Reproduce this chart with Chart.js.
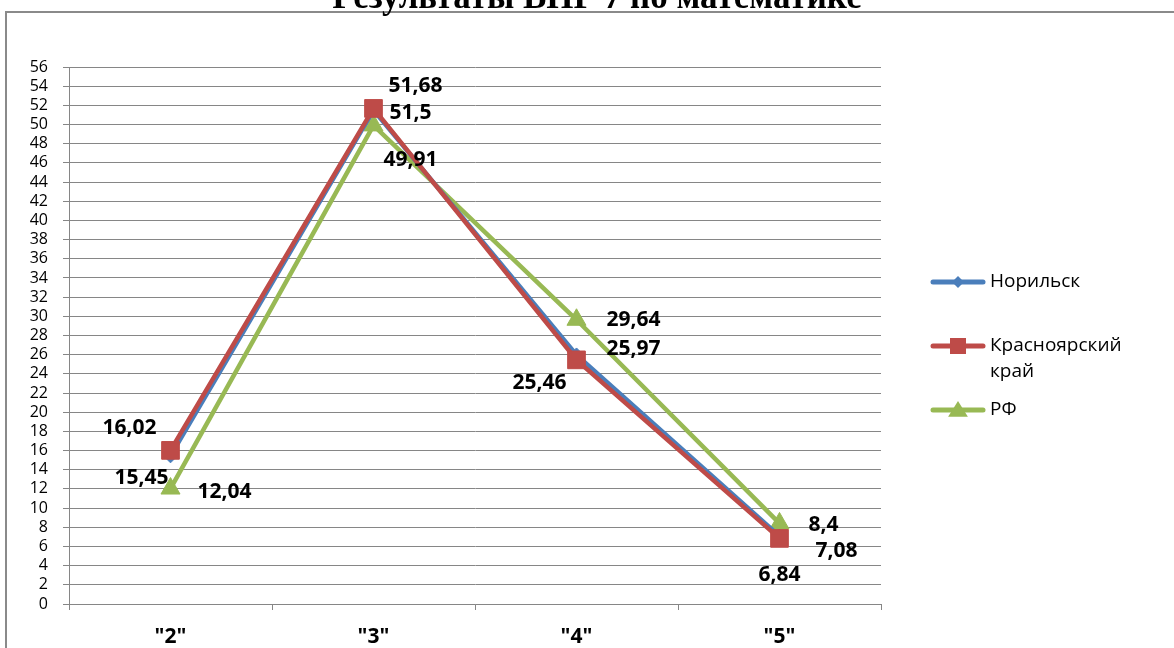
<!DOCTYPE html>
<html lang="ru">
<head>
<meta charset="utf-8">
<script src="https://cdn.jsdelivr.net/npm/chart.js@4.4.1/dist/chart.umd.min.js"></script>
<style>
  html, body { margin: 0; padding: 0; background: #fff; }
  #wrap { width: 1174px; height: 648px; }
</style>
</head>
<body>
<div id="wrap"><canvas id="vprChart" width="1174" height="648"></canvas></div>
<script>
// Результаты ВПР 7 по математике (%)
const categories = ['"2"', '"3"', '"4"', '"5"'];
const norilsk = [15.45, 51.5, 25.97, 7.08];
const krasnoyarsk = [16.02, 51.68, 25.46, 6.84];
const russia = [12.04, 49.91, 29.64, 8.4];
const seriesNames = ['Норильск', 'Красноярский край', 'РФ'];
const yMax = 56;
const yStep = 2;

// where each value label sits relative to its point (px)
const labelShift = [
  [[-29, 22], [37, 3], [57, -6], [57, 15]],
  [[-41, -22], [42, -22], [-37, 23], [0, 37]],
  [[54, 3], [37, 35], [57, 0], [44, 2]]
];

const BLUE = '#4a7ebb';
const RED = '#be4b48';
const GREEN = '#98b954';
const GRID = '#868686';
const SANS = '"Open Sans", "Noto Sans", sans-serif';

// frame + title, drawn behind everything
const framePlugin = {
  id: 'frame',
  beforeDraw(chart) {
    const ctx = chart.ctx;
    ctx.save();
    ctx.fillStyle = '#fff';
    ctx.fillRect(0, 0, chart.width, chart.height);
    ctx.strokeStyle = '#8a8a8a';
    ctx.lineWidth = 2;
    ctx.strokeRect(6, 12, chart.width + 20, chart.height + 20);
    ctx.fillStyle = '#000';
    ctx.font = 'bold 35px "Liberation Serif", "Times New Roman", serif';
    ctx.textAlign = 'center';
    ctx.textBaseline = 'alphabetic';
    ctx.fillText('Результаты ВПР 7 по математике', 597, 8);
    ctx.restore();
  }
};

// value labels next to the points
const valueLabels = {
  id: 'valueLabels',
  afterDatasetsDraw(chart) {
    const ctx = chart.ctx;
    ctx.save();
    ctx.fillStyle = '#000';
    ctx.font = 'bold 21px ' + SANS;
    ctx.textAlign = 'center';
    ctx.textBaseline = 'middle';
    chart.data.datasets.forEach((ds, i) => {
      const meta = chart.getDatasetMeta(i);
      meta.data.forEach((pt, j) => {
        const [dx, dy] = labelShift[ds.seriesIndex][j];
        const txt = String(ds.data[j]).replace('.', ',');
        ctx.fillText(txt, pt.x + dx, pt.y + dy);
      });
    });
    ctx.restore();
  }
};

function marker(ctx, style, x, y, r) {
  ctx.beginPath();
  if (style === 'rectRot') {
    ctx.moveTo(x, y - r);
    ctx.lineTo(x + r, y);
    ctx.lineTo(x, y + r);
    ctx.lineTo(x - r, y);
  } else if (style === 'rect') {
    ctx.rect(x - r, y - r, 2 * r, 2 * r);
  } else {
    ctx.moveTo(x, y - r);
    ctx.lineTo(x + r * 1.1, y + r * 0.75);
    ctx.lineTo(x - r * 1.1, y + r * 0.75);
  }
  ctx.closePath();
  ctx.fill();
}

// legend on the right, with the long name split on two lines
const sideLegend = {
  id: 'sideLegend',
  afterDraw(chart) {
    const ctx = chart.ctx;
    const rows = [
      { ds: 0, y: 282, r: 6, lines: ['Норильск'] },
      { ds: 1, y: 346, r: 8, lines: ['Красноярский', 'край'] },
      { ds: 2, y: 410, r: 9, lines: ['РФ'] }
    ];
    ctx.save();
    rows.forEach(row => {
      const ds = chart.data.datasets.find(d => d.seriesIndex === row.ds);
      ctx.strokeStyle = ds.borderColor;
      ctx.lineWidth = 5;
      ctx.lineCap = 'round';
      ctx.beginPath();
      ctx.moveTo(933, row.y);
      ctx.lineTo(983, row.y);
      ctx.stroke();
      ctx.fillStyle = ds.pointBackgroundColor;
      marker(ctx, ds.pointStyle, 958, row.y, row.r);
      ctx.fillStyle = '#000';
      ctx.font = '19px ' + SANS;
      ctx.textAlign = 'left';
      ctx.textBaseline = 'middle';
      row.lines.forEach((t, k) => ctx.fillText(t, 990, row.y + k * 26));
    });
    ctx.restore();
  }
};

function series(idx, data, color, style, radius) {
  return {
    label: seriesNames[idx],
    seriesIndex: idx,
    data: data,
    borderColor: color,
    backgroundColor: color,
    pointBackgroundColor: color,
    pointBorderColor: color,
    borderWidth: 4.5,
    pointStyle: style,
    pointRadius: radius,
    pointBorderWidth: 1,
    tension: 0,
    fill: false
  };
}

// first dataset ends up on top
const config = {
  type: 'line',
  data: {
    labels: categories,
    datasets: [
      series(1, krasnoyarsk, RED, 'rect', 12.5),
      series(0, norilsk, BLUE, 'rectRot', 7),
      series(2, russia, GREEN, 'triangle', 11)
    ]
  },
  options: {
    responsive: false,
    animation: false,
    devicePixelRatio: 1,
    layout: { padding: { left: 5, right: 293, top: 67, bottom: 0 } },
    plugins: {
      legend: { display: false },
      title: { display: false },
      tooltip: { enabled: false }
    },
    scales: {
      x: {
        offset: true,
        grid: {
          offset: true,
          drawOnChartArea: false,
          drawTicks: true,
          tickLength: 6,
          color: GRID,
          lineWidth: 1
        },
        border: { color: GRID, width: 1 },
        ticks: {
          color: '#000',
          padding: 14,
          font: { family: SANS, size: 21, weight: 'bold' }
        },
        afterFit(scale) { scale.height = 44; }
      },
      y: {
        min: 0,
        max: yMax,
        grid: { color: GRID, lineWidth: 1, tickLength: 6 },
        border: { color: GRID, width: 1 },
        ticks: {
          stepSize: yStep,
          autoSkip: false,
          color: '#000',
          padding: 15,
          font: { family: SANS, size: 16, lineHeight: 1 }
        },
        afterFit(scale) { scale.width = 64; }
      }
    }
  },
  plugins: [framePlugin, valueLabels, sideLegend]
};

try {
  const ctx = document.getElementById('vprChart').getContext('2d');
  new Chart(ctx, config);
} catch (error) {
  console.error('Error rendering the chart:', error);
}
</script>
</body>
</html>
